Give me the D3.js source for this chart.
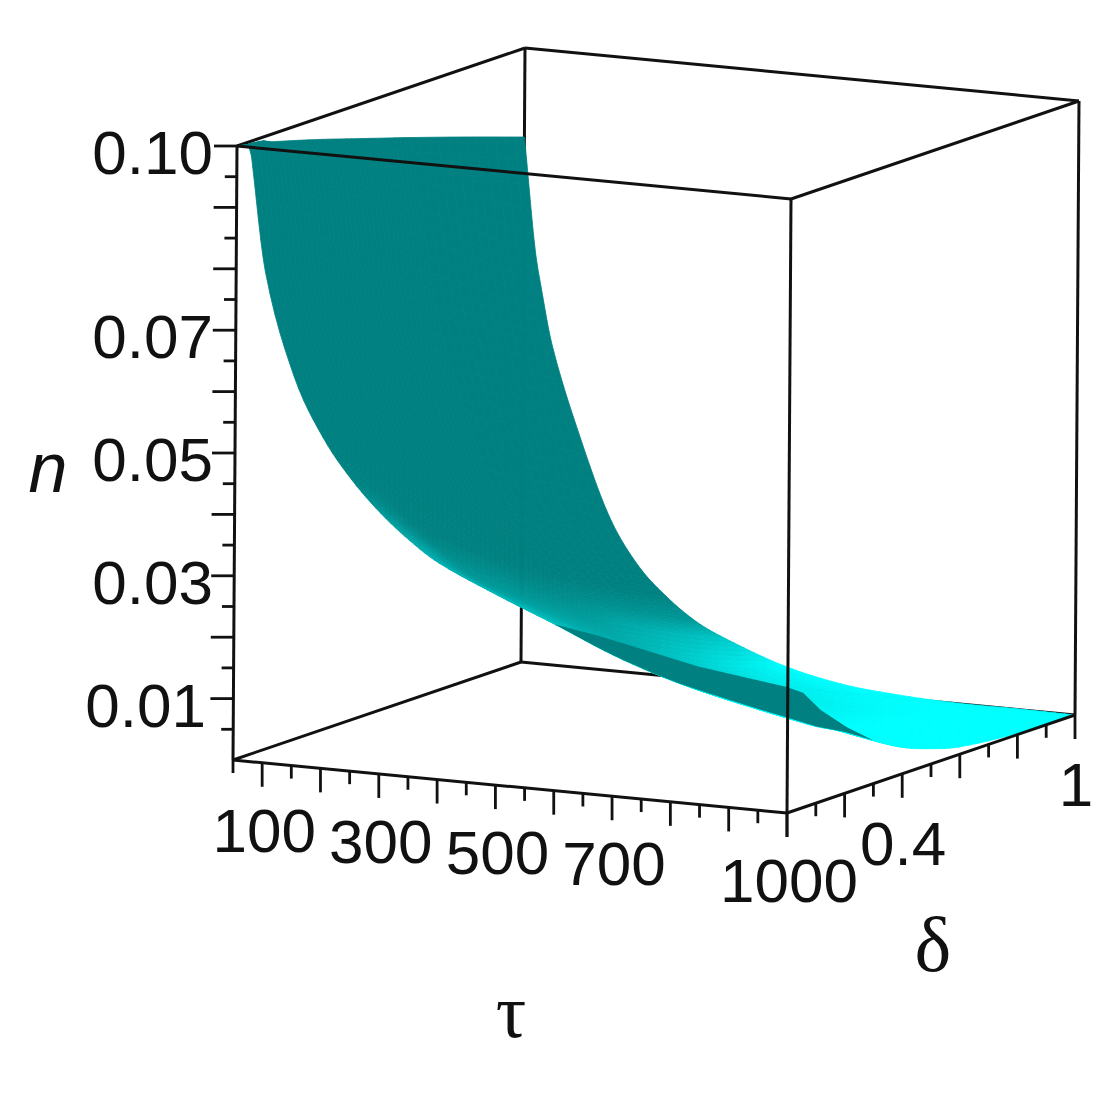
<!DOCTYPE html>
<html>
<head>
<meta charset="utf-8">
<style>
  html, body { margin: 0; background: #fff; }
  svg { display: block; }
  .soft { filter: blur(0.5px); }
</style>
<script src="https://cdn.jsdelivr.net/npm/d3@7"></script>
</head>
<body>
<svg id="chart" width="1113" height="1113"></svg>
<script>
// values
var tauValues = [50, 75, 100, 150, 200, 250, 300, 350, 400, 500, 600, 700, 800, 900, 1000];
var deltaValues = [0, 0.1, 0.2, 0.3, 0.4, 0.5, 0.6, 0.8, 1];

// n(tau) for each delta, same order as deltaValues
var nAtDelta0 = [.1000, .0985, .0800, .0635, .0540, .0475, .0425, .0385, .0353, .0310, .0271, .0230, .0198, .0175, .0155];
var nAtDelta1 = [.0990, .0955, .0772, .0608, .0507, .0442, .0389, .0350, .0316, .0274, .0235, .0199, .0166, .0144, .0125];
var nAtDelta2 = [.0977, .0920, .0744, .0582, .0474, .0409, .0354, .0315, .0282, .0239, .0202, .0167, .0137, .0116, .0100];
var nAtDelta3 = [.0963, .0885, .0716, .0556, .0444, .0376, .0321, .0283, .0248, .0203, .0168, .0136, .0105, .0088, .0070];
var nAtDelta4 = [.0948, .0850, .0688, .0529, .0412, .0343, .0288, .0251, .0217, .0170, .0135, .0106, .0076, .0060, .0043];
var nAtDelta5 = [.0933, .0815, .0660, .0502, .0383, .0313, .0259, .0221, .0189, .0140, .0104, .0079, .0050, .0035, .0025];
var nAtDelta6 = [.0918, .0780, .0632, .0477, .0354, .0283, .0229, .0192, .0161, .0112, .0078, .0052, .0029, .0018, .0012];
var nAtDelta8 = [.0887, .0710, .0576, .0424, .0300, .0226, .0176, .0140, .0112, .0068, .0037, .0019, .0007, .0004, .0002];
var nAtDelta10 = [.0855, .0640, .0520, .0372, .0250, .0175, .0128, .0093, .0070, .0035, .0014, .0005, .0001, .0001, .0000];
var nRows = [nAtDelta0, nAtDelta1, nAtDelta2, nAtDelta3, nAtDelta4, nAtDelta5, nAtDelta6, nAtDelta8, nAtDelta10];

// brightness along tau (0 teal, 1 cyan), read at four delta positions
var shadeDeltas = [0, 0.12, 0.5, 1];
var shadeAt0 = [0, 0, 0, 0, 0, .03, .2, .33, .4, .45, .52, .62, .8, 1, 1];
var shadeAt12 = [0, 0, 0, 0, 0, 0, .02, .1, .2, .38, .5, .65, .85, 1, 1];
var shadeAt50 = [0, 0, 0, 0, 0, 0, 0, .08, .2, .38, .58, .8, 1, 1, 1];
var shadeAt100 = [0, 0, 0, 0, 0, 0, .02, .2, .55, 1, 1, 1, 1, 1, 1];
var shadeRows = [shadeAt0, shadeAt12, shadeAt50, shadeAt100];

// crease where the sheet folds over near delta = 0
var foldTau = [1000, 895, 835, 780, 750, 700, 604];
var foldDelta = [.31, .42, .45, .5, .5, .3, .15];
var foldN = [.0066, .0063, .0081, .0096, .0103, .0163, .0228];

var tauLabels = [100, 300, 500, 700, 1000];
var deltaLabels = [0.4, 1];
var nLabels = [0.01, 0.03, 0.05, 0.07, 0.10];

var tauTicks = d3.range(50, 1001, 50);
var deltaTicks = d3.range(0, 11).map(function(i) { return i / 10; });
var nTicks = d3.range(1, 21).map(function(i) { return i * 0.005; });

var svg = d3.select("#chart");
var teal = "#008080", cyan = "#00ffff", ink = "#111";

// the box is a plain parallel projection, one scale per axis and screen direction
var tauX = d3.scaleLinear().domain([50, 1000]).range([0, 554]);
var tauY = d3.scaleLinear().domain([50, 1000]).range([0, 53]);
var deltaX = d3.scaleLinear().domain([0, 1]).range([0, 288]);
var deltaY = d3.scaleLinear().domain([0, 1]).range([0, -98]);
var nX = d3.scaleLinear().domain([0, 0.1]).range([0, 4]);
var nY = d3.scaleLinear().domain([0, 0.1]).range([0, -614]);
var shadeColor = d3.scaleLinear().domain([0, 1]).range([teal, cyan]).clamp(true);

function project(tau, delta, n) {
    return [233 + tauX(tau) + deltaX(delta) + nX(n),
            760 + tauY(tau) + deltaY(delta) + nY(n)];
}

function edge(g, a, b) {
    var p = project(a[0], a[1], a[2]), q = project(b[0], b[1], b[2]);
    g.append("line")
        .attr("x1", p[0]).attr("y1", p[1])
        .attr("x2", q[0]).attr("y2", q[1]);
}

var backLines = svg.append("g").attr("class", "soft").attr("stroke", ink).attr("stroke-width", 3);
edge(backLines, [50, 1, 0], [50, 1, 0.1]);
edge(backLines, [1000, 1, 0], [1000, 1, 0.1]);
edge(backLines, [50, 0, 0], [50, 1, 0]);
edge(backLines, [50, 1, 0], [1000, 1, 0]);
edge(backLines, [50, 0, 0.1], [50, 1, 0.1]);
edge(backLines, [50, 1, 0.1], [1000, 1, 0.1]);
edge(backLines, [50, 0, 0], [50, 0, 0.1]);

// smooth step between grid lines so the sheet has no corners
function hermite(xs, ys, k, u, kink) {
    var slope = function(i) {
        if (i <= kink) return (ys[i + 1] - ys[i]) / (xs[i + 1] - xs[i]);
        if (i === xs.length - 1) return (ys[i] - ys[i - 1]) / (xs[i] - xs[i - 1]);
        return (ys[i + 1] - ys[i - 1]) / (xs[i + 1] - xs[i - 1]);
    };
    var h = xs[k + 1] - xs[k], u2 = u * u, u3 = u2 * u;
    return (2 * u3 - 3 * u2 + 1) * ys[k] + (u3 - 2 * u2 + u) * h * slope(k)
         + (-2 * u3 + 3 * u2) * ys[k + 1] + (u3 - u2) * h * slope(k + 1);
}

function meshPoint(r, c, u, v) {
    var tau = tauValues[c] + u * (tauValues[c + 1] - tauValues[c]);
    var delta = deltaValues[r] + v * (deltaValues[r + 1] - deltaValues[r]);
    var across = nRows.map(function(row) { return hermite(tauValues, row, c, u, 1); });
    var n = hermite(deltaValues, across, r, v, 0);
    return project(tau, delta, Math.max(0, Math.min(0.1, n)));
}

function meshShade(c, u, delta) {
    var across = shadeRows.map(function(row) { return row[c] + u * (row[c + 1] - row[c]); });
    return d3.scaleLinear().domain(shadeDeltas).range(across)(delta);
}

// surface: each grid cell is split into small quads so the colour runs smoothly
var steps = 6;
var quads = [];
for (var r = deltaValues.length - 2; r >= 0; r--) {
    for (var c = 0; c < tauValues.length - 1; c++) {
        for (var i = 0; i < steps; i++) {
            for (var j = steps - 1; j >= 0; j--) {
                var u0 = i / steps, u1 = (i + 1) / steps, v0 = j / steps, v1 = (j + 1) / steps;
                var midDelta = deltaValues[r] + (v0 + v1) / 2 * (deltaValues[r + 1] - deltaValues[r]);
                quads.push({
                    points: [meshPoint(r, c, u0, v0), meshPoint(r, c, u1, v0),
                             meshPoint(r, c, u1, v1), meshPoint(r, c, u0, v1)],
                    shade: meshShade(c, (u0 + u1) / 2, midDelta)
                });
            }
        }
    }
}

svg.append("g").selectAll("polygon")
    .data(quads)
    .join("polygon")
    .attr("points", function(d) { return d.points.map(function(p) { return p.join(","); }).join(" "); })
    .attr("fill", function(d) { return shadeColor(d.shade); })
    .attr("stroke", function(d) { return shadeColor(d.shade); })
    .attr("stroke-width", 0.8);

// underside of the fold, between delta = 0 and the crease
var foldPoints = [];
tauValues.forEach(function(tau, k) {
    if (tau < 600 || tau === 1000) return;
    d3.range(steps).forEach(function(s) {
        foldPoints.push(meshPoint(0, k, s / steps, 0));
    });
});
[0, 1, 2, 3].forEach(function(r) {
    foldPoints.push(project(1000, deltaValues[r], nRows[r][tauValues.length - 1]));
});
foldTau.forEach(function(tau, k) {
    foldPoints.push(project(tau, foldDelta[k], foldN[k]));
});
svg.append("polygon")
    .attr("points", foldPoints.map(function(p) { return p.join(","); }).join(" "))
    .attr("fill", teal);

var frontLines = svg.append("g").attr("class", "soft").attr("stroke", ink).attr("stroke-width", 3);
edge(frontLines, [50, 0, 0], [1000, 0, 0]);
edge(frontLines, [1000, 0, 0], [1000, 1, 0]);
edge(frontLines, [1000, 0, 0], [1000, 0, 0.1]);
edge(frontLines, [50, 0, 0.1], [1000, 0, 0.1]);
edge(frontLines, [1000, 0, 0.1], [1000, 1, 0.1]);

// tick marks
var tickGroup = svg.append("g").attr("class", "soft").attr("stroke", ink).attr("stroke-width", 2.8);

function tick(p, dx, dy) {
    tickGroup.append("line")
        .attr("x1", p[0]).attr("y1", p[1])
        .attr("x2", p[0] + dx).attr("y2", p[1] + dy);
}

tauTicks.forEach(function(tau) {
    tick(project(tau, 0, 0), 0, tau % 100 === 0 ? 24 : 13);
});
deltaTicks.forEach(function(delta, i) {
    tick(project(1000, delta, 0), 0, i % 2 === 0 ? 24 : 13);
});
nTicks.forEach(function(n, i) {
    tick(project(50, 0, n), i % 2 === 1 ? -23 : -12, 0);
});

// tick labels
var sans = "'Liberation Sans', Arial, sans-serif";
var serif = "'Liberation Serif', 'Times New Roman', serif";
var labels = svg.append("g").attr("class", "soft");

function label(text, x, y, size, family, anchor, style) {
    labels.append("text")
        .attr("x", x).attr("y", y)
        .attr("font-family", family)
        .attr("font-size", size)
        .attr("font-style", style || "normal")
        .attr("text-anchor", anchor)
        .attr("fill", "#111")
        .text(text);
}

tauLabels.forEach(function(tau) {
    var p = project(tau, 0, 0);
    label(tau, p[0] + 2, p[1] + 89, 62, sans, "middle");
});
deltaLabels.forEach(function(delta) {
    var p = project(1000, delta, 0);
    label(delta, p[0] + 1, p[1] + 91, 62, sans, "middle");
});
nLabels.forEach(function(n) {
    var p = project(50, 0, n);
    // 0.01 sits a little further left than the others
    label(n.toFixed(2), n === 0.01 ? 206 : 213, p[1] + 28, 62, sans, "end");
});

// axis titles
label("n", 48, 492, 70, sans, "middle", "italic");
label("\u03c4", 511, 1037, 76, serif, "middle");
label("\u03b4", 933, 971, 78, serif, "middle");
</script>
</body>
</html>
